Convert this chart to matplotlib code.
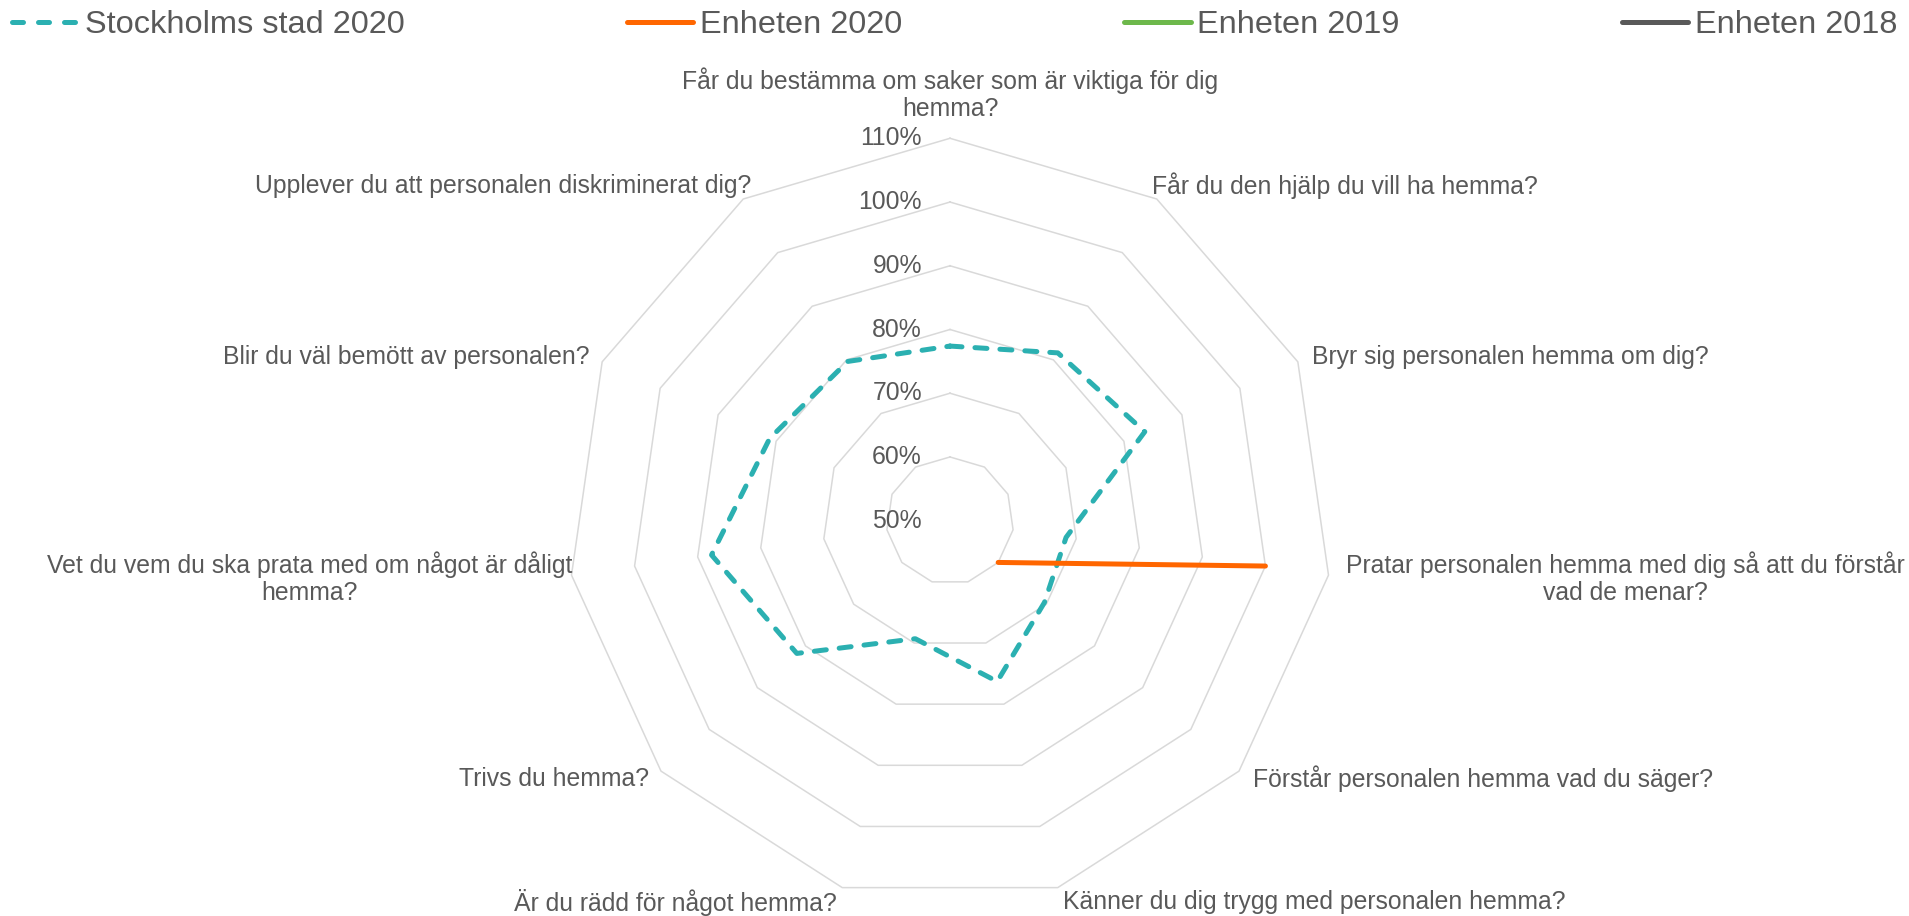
import numpy as np
import matplotlib
matplotlib.use("Agg")
import matplotlib.pyplot as plt
from matplotlib.lines import Line2D

plt.rcParams['font.family'] = ['Liberation Sans', 'DejaVu Sans']

categories = [
    "Får du bestämma om saker som är viktiga för dig\nhemma?",
    "Får du den hjälp du vill ha hemma?",
    "Bryr sig personalen hemma om dig?",
    "Pratar personalen hemma med dig så att du förstår\nvad de menar?",
    "Förstår personalen hemma vad du säger?",
    "Känner du dig trygg med personalen hemma?",
    "Är du rädd för något hemma?",
    "Trivs du hemma?",
    "Vet du vem du ska prata med om något är dåligt\nhemma?",
    "Blir du väl bemött av personalen?",
    "Upplever du att personalen diskriminerat dig?",
]
nan = np.nan
stockholm_2020 = [77.4, 81.3, 83.6, 68.4, 69.6, 76.3, 69.3, 81.8, 87.8, 81.1, 79.7]
enheten_2020 = [nan, nan, nan, 100.0, 60.0, nan, nan, nan, nan, nan, nan]
enheten_2019 = [nan] * 11
enheten_2018 = [nan] * 11
series_names = ["Stockholms stad 2020", "Enheten 2020", "Enheten 2019", "Enheten 2018"]
r_ticks = [50, 60, 70, 80, 90, 100, 110]
r_tick_labels = ["50%", "60%", "70%", "80%", "90%", "100%", "110%"]

TEAL = "#2BB0B1"
ORANGE = "#FF6600"
GREEN = "#6DB84B"
DARK = "#595959"
GRID = "#D9D9D9"
TXT = "#595959"

W, H = 1909, 916
fig = plt.figure(figsize=(W / 100, H / 100), dpi=100)
cx, cy, R = 950, 520.7, 382.4
ax = fig.add_axes([(cx - R) / W, (H - cy - R) / H, 2 * R / W, 2 * R / H], projection="polar")
ax.set_theta_zero_location("N")
ax.set_theta_direction(-1)
ax.set_ylim(r_ticks[0], r_ticks[-1])
ax.grid(False)
ax.spines["polar"].set_visible(False)
ax.set_xticks([])
ax.set_yticks([])
ax.patch.set_alpha(0)

n = len(categories)
theta = np.arange(n) * 2 * np.pi / n
theta_c = np.append(theta, theta[0])

FS = 17.8

# polygon gridlines
for r in r_ticks[1:]:
    ax.plot(theta_c, [r] * (n + 1), color=GRID, lw=1.1, clip_on=False, zorder=1)

# radial tick labels
for r, lab in zip(r_ticks, r_tick_labels):
    ax.annotate(lab, xy=(0, r), xytext=(-28, 0), textcoords="offset pixels",
                ha="right", va="center", fontsize=FS, color=TXT, annotation_clip=False)

def closed(v):
    return np.append(v, v[0])

lw = 3.6
l1, = ax.plot(theta_c, closed(stockholm_2020), color=TEAL, lw=lw, zorder=3, clip_on=False,
              dash_capstyle="round", solid_joinstyle="round", dash_joinstyle="round")
l1.set_dashes([2.4, 2.6])
ax.plot(theta_c, closed(enheten_2020), color=ORANGE, lw=lw, zorder=4, clip_on=False,
        solid_capstyle="round", solid_joinstyle="round")
ax.plot(theta_c, closed(enheten_2019), color=GREEN, lw=lw, zorder=4, clip_on=False)
ax.plot(theta_c, closed(enheten_2018), color=DARK, lw=lw, zorder=4, clip_on=False)

# category labels: (dx, dy, ha) offsets in pixels from outer vertex
label_layout = [
    (0, 44, "center"),
    (-5, 13, "left"),
    (14, 5, "left"),
    (17, -3, "left"),
    (14, -8, "left"),
    (5, -14.5, "left"),
    (-6, -14.5, "right"),
    (-12, -8, "right"),
    (1, -3, "right"),
    (-13, 5, "right"),
    (8, 13, "right"),
]
for t, lab, (dx, dy, ha) in zip(theta, categories, label_layout):
    ax.annotate(lab, xy=(t, r_ticks[-1]), xytext=(dx, dy), textcoords="offset pixels",
                ha=ha, va="center", multialignment="center", fontsize=FS, color=TXT,
                annotation_clip=False, linespacing=1.15)

# legend
h1 = Line2D([], [], color=TEAL, lw=lw, dash_capstyle="round")
h1.set_dashes([2.2, 3.0])
h2 = Line2D([], [], color=ORANGE, lw=lw, solid_capstyle="round")
h3 = Line2D([], [], color=GREEN, lw=lw, solid_capstyle="round")
h4 = Line2D([], [], color=DARK, lw=lw, solid_capstyle="round")
leg = fig.legend([h1, h2, h3, h4], series_names, loc="upper left",
                 bbox_to_anchor=(12 / W, 1 - 10 / H), ncol=4, frameon=False,
                 fontsize=23.4, handlelength=2.05, handletextpad=0.2,
                 columnspacing=6.83, borderpad=0, borderaxespad=0)
for t in leg.get_texts():
    t.set_color(TXT)

fig.savefig("out.png", dpi=100)
